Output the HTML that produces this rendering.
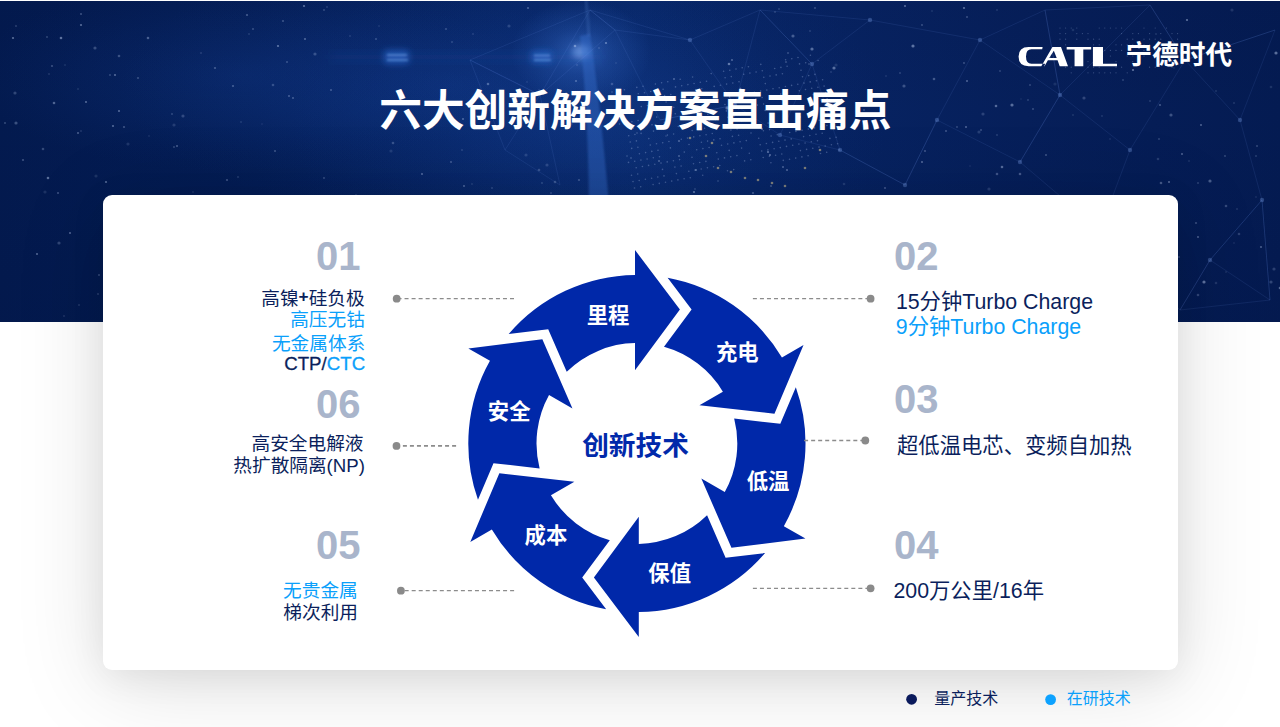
<!DOCTYPE html>
<html lang="zh-CN">
<head>
<meta charset="utf-8">
<title>六大创新解决方案直击痛点</title>
<style>
html,body{margin:0;padding:0;}
body{width:1280px;height:727px;overflow:hidden;background:#ffffff;position:relative;font-family:"Liberation Sans","Noto Sans CJK SC",sans-serif;}
#hdr{position:absolute;left:0;top:1px;width:1280px;height:321px;overflow:hidden;background:#041d55;}
#hdr svg{position:absolute;left:0;top:-1px;}
#card{position:absolute;left:103px;top:195px;width:1075px;height:475px;background:#fff;border-radius:9px;
 box-shadow:0 6px 36px rgba(0,0,0,.07),0 14px 90px rgba(0,0,0,.13);}
#ov{position:absolute;left:0;top:0;}
#ov text{font-family:"Liberation Sans","Noto Sans CJK SC",sans-serif;}
.sr{position:absolute;left:0;top:0;width:1px;height:1px;margin:-1px;padding:0;overflow:hidden;clip:rect(0 0 0 0);clip-path:inset(50%);white-space:nowrap;border:0;opacity:0;}
</style>
</head>
<body>
<div id="hdr">
<svg width="1280" height="322" viewBox="0 0 1280 322">
<defs>
<linearGradient id="hg" x1="0" x2="1" y1="0" y2="0">
<stop offset="0" stop-color="#031a4f"/><stop offset=".2" stop-color="#041d55"/><stop offset=".42" stop-color="#072566"/>
<stop offset=".5" stop-color="#08286b"/><stop offset=".62" stop-color="#072464"/><stop offset=".8" stop-color="#061f5a"/><stop offset="1" stop-color="#041b52"/>
</linearGradient>
<radialGradient id="glow" cx="590" cy="120" r="300" gradientUnits="userSpaceOnUse" gradientTransform="translate(590 120) scale(1 .62) translate(-590 -120)">
<stop offset="0" stop-color="#2558b0" stop-opacity=".22"/><stop offset=".5" stop-color="#1a4aa0" stop-opacity=".09"/><stop offset="1" stop-color="#103a88" stop-opacity="0"/>
</radialGradient>
<radialGradient id="glow2" cx="450" cy="85" r="330" gradientUnits="userSpaceOnUse" gradientTransform="translate(450 85) scale(1 .4) translate(-450 -85)">
<stop offset="0" stop-color="#1a4db0" stop-opacity=".27"/><stop offset=".55" stop-color="#1646a4" stop-opacity=".12"/><stop offset="1" stop-color="#103a88" stop-opacity="0"/>
</radialGradient>
<radialGradient id="glow3" cx="240" cy="75" r="270" gradientUnits="userSpaceOnUse" gradientTransform="translate(240 75) scale(1 .36) translate(-240 -75)">
<stop offset="0" stop-color="#1a4db0" stop-opacity=".2"/><stop offset=".6" stop-color="#1646a4" stop-opacity=".09"/><stop offset="1" stop-color="#103a88" stop-opacity="0"/>
</radialGradient>
<radialGradient id="spot" cx=".5" cy=".5" r=".5"><stop offset="0" stop-color="#4b86e8" stop-opacity=".5"/><stop offset=".45" stop-color="#3f7be0" stop-opacity=".22"/><stop offset="1" stop-color="#3f7be0" stop-opacity="0"/></radialGradient>
<linearGradient id="vg" x1="0" x2="0" y1="0" y2="1">
<stop offset="0" stop-color="#00103a" stop-opacity=".08"/><stop offset=".35" stop-color="#00103a" stop-opacity="0"/><stop offset="1" stop-color="#00103a" stop-opacity=".12"/>
</linearGradient>
<filter id="b6" x="-50%" y="-50%" width="200%" height="200%"><feGaussianBlur stdDeviation="6"/></filter>
<filter id="b3" x="-50%" y="-50%" width="200%" height="200%"><feGaussianBlur stdDeviation="3"/></filter>
<filter id="b1" x="-50%" y="-50%" width="200%" height="200%"><feGaussianBlur stdDeviation="1.2"/></filter>
<filter id="b0" x="-5%" y="-5%" width="110%" height="110%"><feGaussianBlur stdDeviation="0.7"/></filter>
</defs>
<rect width="1280" height="322" fill="url(#hg)"/>
<rect width="1280" height="322" fill="url(#glow)"/>
<rect width="1280" height="322" fill="url(#glow2)"/>
<rect width="1280" height="322" fill="url(#glow3)"/>
<rect width="1280" height="322" fill="url(#vg)"/>
<ellipse cx="581" cy="52" rx="70" ry="52" fill="url(#spot)"/>
<ellipse cx="581" cy="52" rx="9" ry="7" fill="#9cc2ff" fill-opacity=".45" filter="url(#b3)"/>
<path d="M580 36L590 34Q601 110 609 205L589 205Q588 110 580 36Z" fill="#3a6fd0" fill-opacity=".42" filter="url(#b1)"/>
<path d="M586 0Q588 20 589 36" stroke="#6f9ff0" stroke-opacity=".18" stroke-width="3" fill="none" filter="url(#b1)"/>
<rect x="384" y="50" width="25" height="14" rx="3" fill="#2f74e0" fill-opacity=".5" filter="url(#b3)"/>
<rect x="531" y="50.5" width="21" height="13" rx="3" fill="#2f74e0" fill-opacity=".45" filter="url(#b3)"/>
<path d="M387 55H407M387 60H408M534 55.5H550M534 60H551" stroke="#9cc4ff" stroke-opacity=".4" stroke-width="2.2" filter="url(#b1)"/>
<rect x="330" y="53" width="270" height="8" fill="#2a66cc" fill-opacity=".12" filter="url(#b6)"/>
<path d="M812 64L870 20M812 64L760 10M812 64L780 135M937 120L905 185M937 120L980 40M937 120L1020 162M1020 162L1060 95M1020 162L1100 230M780 135L735 105M780 135L840 150M690 40L615 30M690 40L760 10M690 40L735 105M735 105L660 120M870 20L760 10M870 20L980 40M980 40L1045 10M980 40L1060 95M1060 95L1020 162M1060 95L1045 10M1060 95L1130 150M1130 150L1100 230M1130 150L1185 60M1185 60L1150 5M1185 60L1240 120M1185 60L1275 30M1240 120L1262 200M1240 120L1275 30M1100 230L1180 310M1210 260L1180 310M1210 260L1270 300M1210 260L1262 200M1262 200L1210 260M1262 200L1270 300M905 185L937 120M905 185L840 150M840 150L905 185M840 150L812 64M660 120L735 105M660 120L615 30M615 30L590 10M615 30L540 95M760 10L812 64M760 10L735 105M1045 10L1060 95M1045 10L1150 5M1150 5L1185 60M1150 5L1060 95M1275 30L1185 60M1180 310L1210 260M1180 310L1270 300M1270 300L1262 200M540 95L505 150M540 95L470 60M540 95L560 185M505 150L560 185M505 150L470 60M470 60L540 95M470 60L590 10M590 10L615 30M590 10L540 95M590 10L690 40" stroke="#7fa8ff" stroke-opacity=".13" stroke-width="0.8" fill="none"/><circle cx="812" cy="64" r="2.2" fill="#8fb6ff" fill-opacity=".28"/><circle cx="937" cy="120" r="2.2" fill="#8fb6ff" fill-opacity=".28"/><circle cx="1020" cy="162" r="2.2" fill="#8fb6ff" fill-opacity=".28"/><circle cx="780" cy="135" r="2.2" fill="#8fb6ff" fill-opacity=".28"/><circle cx="690" cy="40" r="2.2" fill="#8fb6ff" fill-opacity=".28"/><circle cx="735" cy="105" r="2.2" fill="#8fb6ff" fill-opacity=".28"/><circle cx="870" cy="20" r="2.2" fill="#8fb6ff" fill-opacity=".28"/><circle cx="980" cy="40" r="2.2" fill="#8fb6ff" fill-opacity=".28"/><circle cx="1060" cy="95" r="2.2" fill="#8fb6ff" fill-opacity=".28"/><circle cx="1130" cy="150" r="2.2" fill="#8fb6ff" fill-opacity=".28"/><circle cx="1185" cy="60" r="2.2" fill="#8fb6ff" fill-opacity=".28"/><circle cx="1240" cy="120" r="2.2" fill="#8fb6ff" fill-opacity=".28"/><circle cx="1100" cy="230" r="2.2" fill="#8fb6ff" fill-opacity=".28"/><circle cx="1210" cy="260" r="2.2" fill="#8fb6ff" fill-opacity=".28"/><circle cx="1262" cy="200" r="2.2" fill="#8fb6ff" fill-opacity=".28"/><circle cx="905" cy="185" r="2.2" fill="#8fb6ff" fill-opacity=".28"/><circle cx="840" cy="150" r="2.2" fill="#8fb6ff" fill-opacity=".28"/>
<g fill="#b9cdf5" fill-opacity=".3"><circle cx="612.0" cy="92.0" r="0.8"/><circle cx="618.2" cy="90.8" r="0.8"/><circle cx="624.4" cy="89.7" r="0.8"/><circle cx="636.8" cy="87.4" r="0.8"/><circle cx="643.0" cy="86.2" r="0.8"/><circle cx="655.4" cy="84.0" r="0.8"/><circle cx="661.6" cy="82.8" r="0.8"/><circle cx="667.8" cy="81.7" r="0.8"/><circle cx="680.2" cy="79.3" r="0.8"/><circle cx="692.6" cy="77.0" r="0.8"/><circle cx="711.2" cy="73.6" r="0.8"/><circle cx="723.6" cy="71.3" r="0.8"/><circle cx="729.8" cy="70.2" r="0.8"/><circle cx="736.0" cy="69.0" r="0.8"/><circle cx="742.2" cy="67.8" r="0.8"/><circle cx="748.4" cy="66.7" r="0.8"/><circle cx="760.8" cy="64.4" r="0.8"/><circle cx="785.6" cy="59.8" r="0.8"/><circle cx="791.8" cy="58.7" r="0.8"/><circle cx="798.0" cy="57.5" r="0.8"/><circle cx="810.4" cy="55.2" r="0.8"/><circle cx="625.9" cy="96.1" r="0.8"/><circle cx="638.3" cy="93.8" r="0.8"/><circle cx="644.5" cy="92.7" r="0.8"/><circle cx="650.7" cy="91.5" r="0.8"/><circle cx="663.1" cy="89.2" r="0.8"/><circle cx="675.5" cy="86.9" r="0.8"/><circle cx="681.7" cy="85.8" r="0.8"/><circle cx="687.9" cy="84.6" r="0.8"/><circle cx="694.1" cy="83.5" r="0.8"/><circle cx="700.3" cy="82.3" r="0.8"/><circle cx="706.5" cy="81.2" r="0.8"/><circle cx="725.1" cy="77.7" r="0.8"/><circle cx="731.3" cy="76.6" r="0.8"/><circle cx="743.7" cy="74.2" r="0.8"/><circle cx="749.9" cy="73.1" r="0.8"/><circle cx="756.1" cy="72.0" r="0.8"/><circle cx="762.3" cy="70.8" r="0.8"/><circle cx="774.7" cy="68.5" r="0.8"/><circle cx="780.9" cy="67.4" r="0.8"/><circle cx="787.1" cy="66.2" r="0.8"/><circle cx="799.5" cy="63.9" r="0.8"/><circle cx="805.7" cy="62.8" r="0.8"/><circle cx="818.1" cy="60.5" r="0.8"/><circle cx="639.8" cy="100.2" r="0.8"/><circle cx="646.0" cy="99.0" r="0.8"/><circle cx="652.2" cy="97.9" r="0.8"/><circle cx="664.6" cy="95.6" r="0.8"/><circle cx="670.8" cy="94.5" r="0.8"/><circle cx="695.6" cy="89.8" r="0.8"/><circle cx="701.8" cy="88.7" r="0.8"/><circle cx="714.2" cy="86.4" r="0.8"/><circle cx="720.4" cy="85.2" r="0.8"/><circle cx="726.6" cy="84.1" r="0.8"/><circle cx="732.8" cy="83.0" r="0.8"/><circle cx="739.0" cy="81.8" r="0.8"/><circle cx="763.8" cy="77.2" r="0.8"/><circle cx="770.0" cy="76.0" r="0.8"/><circle cx="776.2" cy="74.9" r="0.8"/><circle cx="782.4" cy="73.8" r="0.8"/><circle cx="801.0" cy="70.3" r="0.8"/><circle cx="628.9" cy="108.9" r="0.8"/><circle cx="641.3" cy="106.6" r="0.8"/><circle cx="647.5" cy="105.5" r="0.8"/><circle cx="666.1" cy="102.0" r="0.8"/><circle cx="684.7" cy="98.6" r="0.8"/><circle cx="690.9" cy="97.4" r="0.8"/><circle cx="697.1" cy="96.2" r="0.8"/><circle cx="703.3" cy="95.1" r="0.8"/><circle cx="715.7" cy="92.8" r="0.8"/><circle cx="740.5" cy="88.2" r="0.8"/><circle cx="765.3" cy="83.6" r="0.8"/><circle cx="802.5" cy="76.7" r="0.8"/><circle cx="808.7" cy="75.6" r="0.8"/><circle cx="814.9" cy="74.4" r="0.8"/><circle cx="624.2" cy="116.4" r="0.8"/><circle cx="649.0" cy="111.8" r="0.8"/><circle cx="661.4" cy="109.5" r="0.8"/><circle cx="673.8" cy="107.2" r="0.8"/><circle cx="704.8" cy="101.5" r="0.8"/><circle cx="711.0" cy="100.3" r="0.8"/><circle cx="717.2" cy="99.2" r="0.8"/><circle cx="729.6" cy="96.9" r="0.8"/><circle cx="748.2" cy="93.4" r="0.8"/><circle cx="754.4" cy="92.3" r="0.8"/><circle cx="760.6" cy="91.1" r="0.8"/><circle cx="766.8" cy="90.0" r="0.8"/><circle cx="773.0" cy="88.8" r="0.8"/><circle cx="779.2" cy="87.7" r="0.8"/><circle cx="785.4" cy="86.5" r="0.8"/><circle cx="791.6" cy="85.4" r="0.8"/><circle cx="797.8" cy="84.2" r="0.8"/><circle cx="804.0" cy="83.1" r="0.8"/><circle cx="810.2" cy="81.9" r="0.8"/><circle cx="816.4" cy="80.8" r="0.8"/><circle cx="822.6" cy="79.7" r="0.8"/><circle cx="619.5" cy="124.0" r="0.8"/><circle cx="631.9" cy="121.7" r="0.8"/><circle cx="638.1" cy="120.5" r="0.8"/><circle cx="644.3" cy="119.4" r="0.8"/><circle cx="650.5" cy="118.2" r="0.8"/><circle cx="656.7" cy="117.1" r="0.8"/><circle cx="669.1" cy="114.8" r="0.8"/><circle cx="675.3" cy="113.7" r="0.8"/><circle cx="681.5" cy="112.5" r="0.8"/><circle cx="687.7" cy="111.3" r="0.8"/><circle cx="693.9" cy="110.2" r="0.8"/><circle cx="700.1" cy="109.0" r="0.8"/><circle cx="706.3" cy="107.9" r="0.8"/><circle cx="724.9" cy="104.5" r="0.8"/><circle cx="743.5" cy="101.0" r="0.8"/><circle cx="749.7" cy="99.8" r="0.8"/><circle cx="755.9" cy="98.7" r="0.8"/><circle cx="762.1" cy="97.5" r="0.8"/><circle cx="780.7" cy="94.1" r="0.8"/><circle cx="786.9" cy="93.0" r="0.8"/><circle cx="799.3" cy="90.7" r="0.8"/><circle cx="805.5" cy="89.5" r="0.8"/><circle cx="811.7" cy="88.3" r="0.8"/><circle cx="817.9" cy="87.2" r="0.8"/><circle cx="824.1" cy="86.1" r="0.8"/><circle cx="633.4" cy="128.1" r="0.8"/><circle cx="639.6" cy="127.0" r="0.8"/><circle cx="645.8" cy="125.8" r="0.8"/><circle cx="652.0" cy="124.7" r="0.8"/><circle cx="664.4" cy="122.4" r="0.8"/><circle cx="683.0" cy="118.9" r="0.8"/><circle cx="689.2" cy="117.8" r="0.8"/><circle cx="701.6" cy="115.5" r="0.8"/><circle cx="707.8" cy="114.3" r="0.8"/><circle cx="714.0" cy="113.2" r="0.8"/><circle cx="726.4" cy="110.9" r="0.8"/><circle cx="732.6" cy="109.7" r="0.8"/><circle cx="738.8" cy="108.6" r="0.8"/><circle cx="745.0" cy="107.4" r="0.8"/><circle cx="757.4" cy="105.1" r="0.8"/><circle cx="763.6" cy="104.0" r="0.8"/><circle cx="782.2" cy="100.5" r="0.8"/><circle cx="788.4" cy="99.4" r="0.8"/><circle cx="794.6" cy="98.2" r="0.8"/><circle cx="813.2" cy="94.8" r="0.8"/><circle cx="819.4" cy="93.6" r="0.8"/><circle cx="825.6" cy="92.5" r="0.8"/><circle cx="628.7" cy="135.7" r="0.8"/><circle cx="634.9" cy="134.5" r="0.8"/><circle cx="641.1" cy="133.4" r="0.8"/><circle cx="653.5" cy="131.1" r="0.8"/><circle cx="665.9" cy="128.8" r="0.8"/><circle cx="678.3" cy="126.5" r="0.8"/><circle cx="684.5" cy="125.3" r="0.8"/><circle cx="690.7" cy="124.2" r="0.8"/><circle cx="696.9" cy="123.0" r="0.8"/><circle cx="703.1" cy="121.9" r="0.8"/><circle cx="709.3" cy="120.7" r="0.8"/><circle cx="715.5" cy="119.6" r="0.8"/><circle cx="727.9" cy="117.3" r="0.8"/><circle cx="734.1" cy="116.1" r="0.8"/><circle cx="740.3" cy="115.0" r="0.8"/><circle cx="746.5" cy="113.8" r="0.8"/><circle cx="765.1" cy="110.4" r="0.8"/><circle cx="771.3" cy="109.2" r="0.8"/><circle cx="783.7" cy="106.9" r="0.8"/><circle cx="789.9" cy="105.8" r="0.8"/><circle cx="808.5" cy="102.3" r="0.8"/><circle cx="820.9" cy="100.0" r="0.8"/><circle cx="827.1" cy="98.9" r="0.8"/><circle cx="630.2" cy="142.0" r="0.8"/><circle cx="636.4" cy="140.9" r="0.8"/><circle cx="648.8" cy="138.6" r="0.8"/><circle cx="667.4" cy="135.1" r="0.8"/><circle cx="673.6" cy="134.0" r="0.8"/><circle cx="692.2" cy="130.5" r="0.8"/><circle cx="698.4" cy="129.4" r="0.8"/><circle cx="704.6" cy="128.2" r="0.8"/><circle cx="710.8" cy="127.1" r="0.8"/><circle cx="717.0" cy="125.9" r="0.8"/><circle cx="723.2" cy="124.8" r="0.8"/><circle cx="729.4" cy="123.6" r="0.8"/><circle cx="741.8" cy="121.3" r="0.8"/><circle cx="748.0" cy="120.2" r="0.8"/><circle cx="772.8" cy="115.6" r="0.8"/><circle cx="803.8" cy="109.8" r="0.8"/><circle cx="816.2" cy="107.5" r="0.8"/><circle cx="631.7" cy="148.4" r="0.8"/><circle cx="637.9" cy="147.3" r="0.8"/><circle cx="650.3" cy="145.0" r="0.8"/><circle cx="656.5" cy="143.8" r="0.8"/><circle cx="662.7" cy="142.7" r="0.8"/><circle cx="668.9" cy="141.5" r="0.8"/><circle cx="681.3" cy="139.2" r="0.8"/><circle cx="687.5" cy="138.1" r="0.8"/><circle cx="693.7" cy="136.9" r="0.8"/><circle cx="699.9" cy="135.8" r="0.8"/><circle cx="706.1" cy="134.7" r="0.8"/><circle cx="712.3" cy="133.5" r="0.8"/><circle cx="730.9" cy="130.1" r="0.8"/><circle cx="737.1" cy="128.9" r="0.8"/><circle cx="743.3" cy="127.8" r="0.8"/><circle cx="749.5" cy="126.6" r="0.8"/><circle cx="755.7" cy="125.4" r="0.8"/><circle cx="768.1" cy="123.1" r="0.8"/><circle cx="774.3" cy="122.0" r="0.8"/><circle cx="786.7" cy="119.7" r="0.8"/><circle cx="799.1" cy="117.4" r="0.8"/><circle cx="811.5" cy="115.1" r="0.8"/><circle cx="823.9" cy="112.8" r="0.8"/><circle cx="830.1" cy="111.7" r="0.8"/><circle cx="627.0" cy="156.0" r="0.8"/><circle cx="639.4" cy="153.7" r="0.8"/><circle cx="645.6" cy="152.6" r="0.8"/><circle cx="651.8" cy="151.4" r="0.8"/><circle cx="658.0" cy="150.2" r="0.8"/><circle cx="670.4" cy="147.9" r="0.8"/><circle cx="689.0" cy="144.5" r="0.8"/><circle cx="701.4" cy="142.2" r="0.8"/><circle cx="707.6" cy="141.1" r="0.8"/><circle cx="713.8" cy="139.9" r="0.8"/><circle cx="720.0" cy="138.8" r="0.8"/><circle cx="732.4" cy="136.4" r="0.8"/><circle cx="738.6" cy="135.3" r="0.8"/><circle cx="751.0" cy="133.0" r="0.8"/><circle cx="763.4" cy="130.7" r="0.8"/><circle cx="769.6" cy="129.6" r="0.8"/><circle cx="788.2" cy="126.1" r="0.8"/><circle cx="794.4" cy="125.0" r="0.8"/><circle cx="819.2" cy="120.3" r="0.8"/><circle cx="831.6" cy="118.1" r="0.8"/><circle cx="628.5" cy="162.4" r="0.8"/><circle cx="634.7" cy="161.2" r="0.8"/><circle cx="640.9" cy="160.1" r="0.8"/><circle cx="647.1" cy="159.0" r="0.8"/><circle cx="653.3" cy="157.8" r="0.8"/><circle cx="659.5" cy="156.7" r="0.8"/><circle cx="684.3" cy="152.1" r="0.8"/><circle cx="696.7" cy="149.8" r="0.8"/><circle cx="702.9" cy="148.6" r="0.8"/><circle cx="709.1" cy="147.5" r="0.8"/><circle cx="721.5" cy="145.2" r="0.8"/><circle cx="727.7" cy="144.0" r="0.8"/><circle cx="733.9" cy="142.9" r="0.8"/><circle cx="740.1" cy="141.7" r="0.8"/><circle cx="746.3" cy="140.6" r="0.8"/><circle cx="758.7" cy="138.2" r="0.8"/><circle cx="771.1" cy="136.0" r="0.8"/><circle cx="777.3" cy="134.8" r="0.8"/><circle cx="789.7" cy="132.5" r="0.8"/><circle cx="795.9" cy="131.4" r="0.8"/><circle cx="802.1" cy="130.2" r="0.8"/><circle cx="808.3" cy="129.1" r="0.8"/><circle cx="814.5" cy="127.9" r="0.8"/><circle cx="820.7" cy="126.8" r="0.8"/><circle cx="826.9" cy="125.6" r="0.8"/><circle cx="833.1" cy="124.5" r="0.8"/><circle cx="636.2" cy="167.7" r="0.8"/><circle cx="642.4" cy="166.5" r="0.8"/><circle cx="648.6" cy="165.4" r="0.8"/><circle cx="654.8" cy="164.2" r="0.8"/><circle cx="661.0" cy="163.1" r="0.8"/><circle cx="667.2" cy="161.9" r="0.8"/><circle cx="673.4" cy="160.8" r="0.8"/><circle cx="679.6" cy="159.6" r="0.8"/><circle cx="692.0" cy="157.3" r="0.8"/><circle cx="716.8" cy="152.7" r="0.8"/><circle cx="729.2" cy="150.4" r="0.8"/><circle cx="741.6" cy="148.1" r="0.8"/><circle cx="760.2" cy="144.7" r="0.8"/><circle cx="766.4" cy="143.5" r="0.8"/><circle cx="772.6" cy="142.4" r="0.8"/><circle cx="778.8" cy="141.2" r="0.8"/><circle cx="785.0" cy="140.1" r="0.8"/><circle cx="791.2" cy="138.9" r="0.8"/><circle cx="803.6" cy="136.6" r="0.8"/><circle cx="809.8" cy="135.5" r="0.8"/><circle cx="816.0" cy="134.3" r="0.8"/><circle cx="822.2" cy="133.2" r="0.8"/><circle cx="631.5" cy="175.2" r="0.8"/><circle cx="637.7" cy="174.0" r="0.8"/><circle cx="662.5" cy="169.4" r="0.8"/><circle cx="674.9" cy="167.1" r="0.8"/><circle cx="681.1" cy="166.0" r="0.8"/><circle cx="693.5" cy="163.7" r="0.8"/><circle cx="699.7" cy="162.5" r="0.8"/><circle cx="705.9" cy="161.4" r="0.8"/><circle cx="718.3" cy="159.1" r="0.8"/><circle cx="724.5" cy="157.9" r="0.8"/><circle cx="730.7" cy="156.8" r="0.8"/><circle cx="736.9" cy="155.6" r="0.8"/><circle cx="749.3" cy="153.3" r="0.8"/><circle cx="761.7" cy="151.0" r="0.8"/><circle cx="767.9" cy="149.9" r="0.8"/><circle cx="774.1" cy="148.8" r="0.8"/><circle cx="780.3" cy="147.6" r="0.8"/><circle cx="786.5" cy="146.4" r="0.8"/><circle cx="792.7" cy="145.3" r="0.8"/><circle cx="798.9" cy="144.1" r="0.8"/><circle cx="805.1" cy="143.0" r="0.8"/><circle cx="811.3" cy="141.8" r="0.8"/><circle cx="817.5" cy="140.7" r="0.8"/><circle cx="829.9" cy="138.4" r="0.8"/><circle cx="836.1" cy="137.2" r="0.8"/><circle cx="633.0" cy="181.6" r="0.8"/><circle cx="639.2" cy="180.5" r="0.8"/><circle cx="645.4" cy="179.3" r="0.8"/><circle cx="651.6" cy="178.2" r="0.8"/><circle cx="657.8" cy="177.0" r="0.8"/><circle cx="664.0" cy="175.9" r="0.8"/><circle cx="676.4" cy="173.6" r="0.8"/><circle cx="688.8" cy="171.3" r="0.8"/><circle cx="695.0" cy="170.1" r="0.8"/><circle cx="701.2" cy="169.0" r="0.8"/><circle cx="707.4" cy="167.8" r="0.8"/><circle cx="713.6" cy="166.7" r="0.8"/><circle cx="719.8" cy="165.5" r="0.8"/><circle cx="744.6" cy="160.9" r="0.8"/><circle cx="750.8" cy="159.8" r="0.8"/><circle cx="763.2" cy="157.5" r="0.8"/><circle cx="769.4" cy="156.3" r="0.8"/><circle cx="775.6" cy="155.2" r="0.8"/><circle cx="781.8" cy="154.0" r="0.8"/><circle cx="800.4" cy="150.6" r="0.8"/><circle cx="806.6" cy="149.4" r="0.8"/><circle cx="812.8" cy="148.3" r="0.8"/><circle cx="819.0" cy="147.1" r="0.8"/><circle cx="825.2" cy="146.0" r="0.8"/><circle cx="831.4" cy="144.8" r="0.8"/><circle cx="837.6" cy="143.7" r="0.8"/><circle cx="634.5" cy="188.0" r="0.8"/><circle cx="640.7" cy="186.8" r="0.8"/><circle cx="653.1" cy="184.6" r="0.8"/><circle cx="659.3" cy="183.4" r="0.8"/><circle cx="665.5" cy="182.2" r="0.8"/><circle cx="671.7" cy="181.1" r="0.8"/><circle cx="677.9" cy="179.9" r="0.8"/><circle cx="684.1" cy="178.8" r="0.8"/><circle cx="690.3" cy="177.7" r="0.8"/><circle cx="702.7" cy="175.3" r="0.8"/><circle cx="727.5" cy="170.8" r="0.8"/><circle cx="733.7" cy="169.6" r="0.8"/><circle cx="770.9" cy="162.7" r="0.8"/><circle cx="783.3" cy="160.4" r="0.8"/><circle cx="789.5" cy="159.2" r="0.8"/><circle cx="795.7" cy="158.1" r="0.8"/><circle cx="801.9" cy="156.9" r="0.8"/><circle cx="808.1" cy="155.8" r="0.8"/><circle cx="820.5" cy="153.5" r="0.8"/><circle cx="826.7" cy="152.3" r="0.8"/><circle cx="839.1" cy="150.1" r="0.8"/><circle cx="1060.0" cy="28.0" r="0.6"/><circle cx="1065.6" cy="28.0" r="0.6"/><circle cx="1071.2" cy="28.0" r="0.6"/><circle cx="1076.8" cy="28.0" r="0.6"/><circle cx="1099.2" cy="28.0" r="0.6"/><circle cx="1104.8" cy="28.0" r="0.6"/><circle cx="1110.4" cy="28.0" r="0.6"/><circle cx="1116.0" cy="28.0" r="0.6"/><circle cx="1121.6" cy="28.0" r="0.6"/><circle cx="1144.0" cy="28.0" r="0.6"/><circle cx="1155.2" cy="28.0" r="0.6"/><circle cx="1166.4" cy="28.0" r="0.6"/><circle cx="1060.0" cy="33.6" r="0.6"/><circle cx="1065.6" cy="33.6" r="0.6"/><circle cx="1076.8" cy="33.6" r="0.6"/><circle cx="1082.4" cy="33.6" r="0.6"/><circle cx="1088.0" cy="33.6" r="0.6"/><circle cx="1121.6" cy="33.6" r="0.6"/><circle cx="1132.8" cy="33.6" r="0.6"/><circle cx="1138.4" cy="33.6" r="0.6"/><circle cx="1149.6" cy="33.6" r="0.6"/><circle cx="1160.8" cy="33.6" r="0.6"/><circle cx="1172.0" cy="33.6" r="0.6"/><circle cx="1177.6" cy="33.6" r="0.6"/><circle cx="1060.0" cy="39.2" r="0.6"/><circle cx="1065.6" cy="39.2" r="0.6"/><circle cx="1076.8" cy="39.2" r="0.6"/><circle cx="1088.0" cy="39.2" r="0.6"/><circle cx="1093.6" cy="39.2" r="0.6"/><circle cx="1099.2" cy="39.2" r="0.6"/><circle cx="1127.2" cy="39.2" r="0.6"/><circle cx="1132.8" cy="39.2" r="0.6"/><circle cx="1144.0" cy="39.2" r="0.6"/><circle cx="1149.6" cy="39.2" r="0.6"/><circle cx="1155.2" cy="39.2" r="0.6"/><circle cx="1160.8" cy="39.2" r="0.6"/><circle cx="1177.6" cy="39.2" r="0.6"/><circle cx="1065.6" cy="44.8" r="0.6"/><circle cx="1093.6" cy="44.8" r="0.6"/><circle cx="1099.2" cy="44.8" r="0.6"/><circle cx="1116.0" cy="44.8" r="0.6"/><circle cx="1121.6" cy="44.8" r="0.6"/><circle cx="1127.2" cy="44.8" r="0.6"/><circle cx="1132.8" cy="44.8" r="0.6"/><circle cx="1138.4" cy="44.8" r="0.6"/><circle cx="1144.0" cy="44.8" r="0.6"/><circle cx="1149.6" cy="44.8" r="0.6"/><circle cx="1160.8" cy="44.8" r="0.6"/><circle cx="1082.4" cy="50.4" r="0.6"/><circle cx="1104.8" cy="50.4" r="0.6"/><circle cx="1110.4" cy="50.4" r="0.6"/><circle cx="1116.0" cy="50.4" r="0.6"/><circle cx="1121.6" cy="50.4" r="0.6"/><circle cx="1144.0" cy="50.4" r="0.6"/><circle cx="1155.2" cy="50.4" r="0.6"/><circle cx="1166.4" cy="50.4" r="0.6"/><circle cx="1093.6" cy="56.0" r="0.6"/><circle cx="1110.4" cy="56.0" r="0.6"/><circle cx="1127.2" cy="56.0" r="0.6"/><circle cx="1132.8" cy="56.0" r="0.6"/><circle cx="1138.4" cy="56.0" r="0.6"/><circle cx="1144.0" cy="56.0" r="0.6"/><circle cx="1172.0" cy="56.0" r="0.6"/><circle cx="1177.6" cy="56.0" r="0.6"/><circle cx="1076.8" cy="61.6" r="0.6"/><circle cx="1088.0" cy="61.6" r="0.6"/><circle cx="1093.6" cy="61.6" r="0.6"/><circle cx="1099.2" cy="61.6" r="0.6"/><circle cx="1116.0" cy="61.6" r="0.6"/><circle cx="1132.8" cy="61.6" r="0.6"/><circle cx="1138.4" cy="61.6" r="0.6"/><circle cx="1166.4" cy="61.6" r="0.6"/><circle cx="1172.0" cy="61.6" r="0.6"/><circle cx="1065.6" cy="67.2" r="0.6"/><circle cx="1071.2" cy="67.2" r="0.6"/><circle cx="1088.0" cy="67.2" r="0.6"/><circle cx="1093.6" cy="67.2" r="0.6"/><circle cx="1099.2" cy="67.2" r="0.6"/><circle cx="1116.0" cy="67.2" r="0.6"/><circle cx="1121.6" cy="67.2" r="0.6"/><circle cx="1149.6" cy="67.2" r="0.6"/><circle cx="1155.2" cy="67.2" r="0.6"/><circle cx="1172.0" cy="67.2" r="0.6"/><circle cx="1071.2" cy="72.8" r="0.6"/><circle cx="1088.0" cy="72.8" r="0.6"/><circle cx="1093.6" cy="72.8" r="0.6"/><circle cx="1099.2" cy="72.8" r="0.6"/><circle cx="1104.8" cy="72.8" r="0.6"/><circle cx="1110.4" cy="72.8" r="0.6"/><circle cx="1116.0" cy="72.8" r="0.6"/><circle cx="1127.2" cy="72.8" r="0.6"/></g>
<circle cx="706" cy="156" r="1.3" fill="#d8c48a" fill-opacity=".55"/><circle cx="718" cy="168" r="1.3" fill="#d8c48a" fill-opacity=".55"/><circle cx="731" cy="172" r="1.3" fill="#d8c48a" fill-opacity=".55"/><circle cx="745" cy="178" r="1.3" fill="#d8c48a" fill-opacity=".55"/><circle cx="758" cy="180" r="1.3" fill="#d8c48a" fill-opacity=".55"/><circle cx="772" cy="183" r="1.3" fill="#d8c48a" fill-opacity=".55"/><circle cx="785" cy="186" r="1.3" fill="#d8c48a" fill-opacity=".55"/><circle cx="712" cy="143" r="1.3" fill="#d8c48a" fill-opacity=".55"/><circle cx="690" cy="138" r="1.3" fill="#d8c48a" fill-opacity=".55"/><circle cx="700" cy="126" r="1.3" fill="#d8c48a" fill-opacity=".55"/><circle cx="805" cy="168" r="1.3" fill="#d8c48a" fill-opacity=".55"/><circle cx="820" cy="150" r="1.3" fill="#d8c48a" fill-opacity=".55"/>
<g fill="#cfe0ff" filter="url(#b0)"><circle cx="579" cy="180" r="1.1" fill-opacity="0.26"/><circle cx="1094" cy="63" r="1.3" fill-opacity="0.27"/><circle cx="786" cy="62" r="1.1" fill-opacity="0.21"/><circle cx="116" cy="260" r="1.6" fill-opacity="0.32"/><circle cx="762" cy="129" r="1.1" fill-opacity="0.33"/><circle cx="788" cy="53" r="0.8" fill-opacity="0.39"/><circle cx="81" cy="14" r="0.9" fill-opacity="0.31"/><circle cx="996" cy="106" r="1.3" fill-opacity="0.39"/><circle cx="664" cy="206" r="1.1" fill-opacity="0.10"/><circle cx="109" cy="211" r="1.1" fill-opacity="0.45"/><circle cx="1274" cy="269" r="1.6" fill-opacity="0.19"/><circle cx="970" cy="166" r="0.8" fill-opacity="0.12"/><circle cx="981" cy="130" r="1.0" fill-opacity="0.24"/><circle cx="1226" cy="272" r="0.8" fill-opacity="0.17"/><circle cx="1187" cy="20" r="1.1" fill-opacity="0.44"/><circle cx="509" cy="26" r="1.6" fill-opacity="0.17"/><circle cx="864" cy="110" r="1.0" fill-opacity="0.22"/><circle cx="1234" cy="243" r="0.8" fill-opacity="0.15"/><circle cx="905" cy="6" r="1.1" fill-opacity="0.38"/><circle cx="227" cy="180" r="1.1" fill-opacity="0.28"/><circle cx="1261" cy="247" r="1.1" fill-opacity="0.33"/><circle cx="149" cy="136" r="0.9" fill-opacity="0.10"/><circle cx="1106" cy="312" r="1.3" fill-opacity="0.21"/><circle cx="1133" cy="70" r="1.1" fill-opacity="0.45"/><circle cx="771" cy="186" r="0.8" fill-opacity="0.45"/><circle cx="273" cy="85" r="1.3" fill-opacity="0.22"/><circle cx="379" cy="26" r="0.8" fill-opacity="0.17"/><circle cx="815" cy="8" r="1.0" fill-opacity="0.23"/><circle cx="580" cy="307" r="1.1" fill-opacity="0.39"/><circle cx="174" cy="125" r="1.6" fill-opacity="0.15"/><circle cx="1163" cy="262" r="0.9" fill-opacity="0.35"/><circle cx="203" cy="202" r="1.3" fill-opacity="0.17"/><circle cx="1216" cy="283" r="1.3" fill-opacity="0.13"/><circle cx="61" cy="38" r="1.3" fill-opacity="0.44"/><circle cx="305" cy="226" r="1.0" fill-opacity="0.25"/><circle cx="1158" cy="159" r="1.3" fill-opacity="0.16"/><circle cx="922" cy="25" r="0.9" fill-opacity="0.27"/><circle cx="836" cy="198" r="0.8" fill-opacity="0.20"/><circle cx="1174" cy="68" r="0.8" fill-opacity="0.12"/><circle cx="527" cy="82" r="0.8" fill-opacity="0.16"/><circle cx="472" cy="184" r="0.9" fill-opacity="0.13"/><circle cx="177" cy="146" r="1.0" fill-opacity="0.33"/><circle cx="885" cy="188" r="0.9" fill-opacity="0.31"/><circle cx="1182" cy="154" r="1.0" fill-opacity="0.35"/><circle cx="1232" cy="10" r="1.6" fill-opacity="0.13"/><circle cx="86" cy="102" r="0.9" fill-opacity="0.45"/><circle cx="96" cy="176" r="1.6" fill-opacity="0.12"/><circle cx="1198" cy="237" r="0.9" fill-opacity="0.38"/><circle cx="1171" cy="115" r="1.6" fill-opacity="0.27"/><circle cx="99" cy="275" r="0.8" fill-opacity="0.40"/><circle cx="733" cy="201" r="1.1" fill-opacity="0.23"/><circle cx="16" cy="26" r="0.8" fill-opacity="0.32"/><circle cx="1271" cy="282" r="1.6" fill-opacity="0.22"/><circle cx="1196" cy="223" r="1.1" fill-opacity="0.25"/><circle cx="1073" cy="30" r="1.3" fill-opacity="0.11"/><circle cx="770" cy="155" r="0.9" fill-opacity="0.44"/><circle cx="144" cy="250" r="1.6" fill-opacity="0.42"/><circle cx="327" cy="7" r="1.0" fill-opacity="0.15"/><circle cx="783" cy="167" r="1.0" fill-opacity="0.33"/><circle cx="566" cy="286" r="1.0" fill-opacity="0.24"/><circle cx="321" cy="204" r="0.9" fill-opacity="0.41"/><circle cx="492" cy="188" r="1.0" fill-opacity="0.17"/><circle cx="172" cy="114" r="0.8" fill-opacity="0.35"/><circle cx="1216" cy="91" r="0.9" fill-opacity="0.14"/><circle cx="603" cy="296" r="1.1" fill-opacity="0.23"/><circle cx="666" cy="216" r="1.6" fill-opacity="0.39"/><circle cx="1257" cy="146" r="0.8" fill-opacity="0.39"/><circle cx="356" cy="196" r="1.6" fill-opacity="0.35"/><circle cx="730" cy="101" r="1.3" fill-opacity="0.11"/><circle cx="174" cy="147" r="0.8" fill-opacity="0.37"/><circle cx="341" cy="250" r="0.8" fill-opacity="0.44"/><circle cx="148" cy="38" r="1.3" fill-opacity="0.33"/><circle cx="1033" cy="307" r="1.6" fill-opacity="0.17"/><circle cx="1055" cy="84" r="1.6" fill-opacity="0.10"/><circle cx="604" cy="229" r="0.9" fill-opacity="0.18"/><circle cx="997" cy="174" r="1.3" fill-opacity="0.28"/><circle cx="1276" cy="53" r="1.6" fill-opacity="0.42"/><circle cx="112" cy="299" r="1.6" fill-opacity="0.24"/><circle cx="577" cy="65" r="0.8" fill-opacity="0.23"/><circle cx="728" cy="282" r="1.0" fill-opacity="0.26"/><circle cx="834" cy="68" r="1.6" fill-opacity="0.40"/><circle cx="1022" cy="296" r="0.8" fill-opacity="0.17"/><circle cx="1152" cy="314" r="1.0" fill-opacity="0.29"/><circle cx="1012" cy="105" r="1.6" fill-opacity="0.40"/><circle cx="446" cy="29" r="1.1" fill-opacity="0.22"/><circle cx="539" cy="90" r="0.8" fill-opacity="0.18"/><circle cx="1110" cy="139" r="0.8" fill-opacity="0.16"/><circle cx="429" cy="253" r="0.9" fill-opacity="0.26"/><circle cx="1280" cy="288" r="1.3" fill-opacity="0.39"/><circle cx="882" cy="303" r="1.1" fill-opacity="0.30"/><circle cx="882" cy="243" r="1.1" fill-opacity="0.28"/><circle cx="371" cy="234" r="1.6" fill-opacity="0.16"/><circle cx="658" cy="291" r="1.0" fill-opacity="0.21"/><circle cx="488" cy="271" r="1.3" fill-opacity="0.17"/><circle cx="1089" cy="310" r="1.3" fill-opacity="0.20"/><circle cx="637" cy="133" r="0.8" fill-opacity="0.28"/><circle cx="775" cy="12" r="0.8" fill-opacity="0.28"/><circle cx="513" cy="257" r="1.3" fill-opacity="0.14"/><circle cx="119" cy="56" r="1.3" fill-opacity="0.26"/><circle cx="1179" cy="257" r="1.1" fill-opacity="0.19"/><circle cx="606" cy="43" r="1.1" fill-opacity="0.42"/><circle cx="1198" cy="295" r="1.3" fill-opacity="0.21"/><circle cx="245" cy="199" r="1.0" fill-opacity="0.15"/><circle cx="997" cy="10" r="0.9" fill-opacity="0.15"/><circle cx="15" cy="93" r="1.6" fill-opacity="0.22"/><circle cx="793" cy="36" r="1.6" fill-opacity="0.30"/><circle cx="1090" cy="201" r="1.6" fill-opacity="0.17"/><circle cx="679" cy="141" r="1.1" fill-opacity="0.32"/><circle cx="1056" cy="198" r="1.3" fill-opacity="0.17"/><circle cx="808" cy="205" r="1.3" fill-opacity="0.18"/><circle cx="695" cy="189" r="0.9" fill-opacity="0.18"/><circle cx="948" cy="260" r="0.9" fill-opacity="0.21"/><circle cx="403" cy="296" r="0.9" fill-opacity="0.37"/><circle cx="249" cy="34" r="0.9" fill-opacity="0.15"/><circle cx="113" cy="126" r="1.1" fill-opacity="0.39"/><circle cx="540" cy="253" r="0.9" fill-opacity="0.17"/><circle cx="804" cy="256" r="0.8" fill-opacity="0.17"/><circle cx="873" cy="292" r="1.0" fill-opacity="0.14"/><circle cx="647" cy="243" r="1.3" fill-opacity="0.45"/><circle cx="1066" cy="258" r="1.1" fill-opacity="0.14"/><circle cx="48" cy="178" r="1.3" fill-opacity="0.42"/><circle cx="616" cy="63" r="0.8" fill-opacity="0.17"/><circle cx="1075" cy="317" r="1.6" fill-opacity="0.13"/><circle cx="79" cy="305" r="1.1" fill-opacity="0.13"/><circle cx="124" cy="127" r="1.1" fill-opacity="0.28"/><circle cx="551" cy="193" r="0.8" fill-opacity="0.32"/><circle cx="52" cy="66" r="1.1" fill-opacity="0.26"/><circle cx="946" cy="131" r="0.9" fill-opacity="0.31"/><circle cx="121" cy="254" r="1.0" fill-opacity="0.41"/><circle cx="1026" cy="226" r="1.6" fill-opacity="0.43"/><circle cx="729" cy="64" r="1.3" fill-opacity="0.44"/><circle cx="1030" cy="85" r="0.8" fill-opacity="0.36"/><circle cx="996" cy="261" r="1.1" fill-opacity="0.15"/><circle cx="422" cy="174" r="1.0" fill-opacity="0.37"/><circle cx="979" cy="132" r="1.6" fill-opacity="0.16"/><circle cx="1021" cy="99" r="0.8" fill-opacity="0.10"/><circle cx="455" cy="205" r="1.3" fill-opacity="0.12"/><circle cx="349" cy="308" r="1.0" fill-opacity="0.22"/><circle cx="844" cy="184" r="1.3" fill-opacity="0.13"/><circle cx="659" cy="161" r="0.9" fill-opacity="0.35"/><circle cx="975" cy="314" r="0.8" fill-opacity="0.14"/><circle cx="138" cy="78" r="1.1" fill-opacity="0.24"/><circle cx="65" cy="65" r="1.1" fill-opacity="0.10"/><circle cx="331" cy="90" r="1.0" fill-opacity="0.29"/><circle cx="650" cy="310" r="1.3" fill-opacity="0.40"/><circle cx="128" cy="144" r="1.6" fill-opacity="0.13"/><circle cx="765" cy="244" r="0.8" fill-opacity="0.24"/><circle cx="1201" cy="125" r="0.9" fill-opacity="0.40"/><circle cx="694" cy="192" r="1.1" fill-opacity="0.43"/><circle cx="539" cy="170" r="1.3" fill-opacity="0.21"/><circle cx="679" cy="156" r="1.0" fill-opacity="0.30"/><circle cx="363" cy="230" r="1.0" fill-opacity="0.11"/><circle cx="989" cy="189" r="1.6" fill-opacity="0.15"/><circle cx="966" cy="127" r="1.0" fill-opacity="0.36"/><circle cx="64" cy="316" r="1.0" fill-opacity="0.13"/><circle cx="1159" cy="139" r="1.1" fill-opacity="0.19"/><circle cx="967" cy="17" r="0.8" fill-opacity="0.43"/><circle cx="925" cy="151" r="0.9" fill-opacity="0.31"/><circle cx="147" cy="201" r="1.1" fill-opacity="0.14"/><circle cx="1102" cy="116" r="0.9" fill-opacity="0.14"/><circle cx="567" cy="215" r="1.1" fill-opacity="0.31"/><circle cx="819" cy="219" r="1.0" fill-opacity="0.37"/><circle cx="679" cy="319" r="1.0" fill-opacity="0.36"/><circle cx="305" cy="39" r="1.0" fill-opacity="0.37"/><circle cx="800" cy="117" r="1.0" fill-opacity="0.31"/><circle cx="928" cy="225" r="0.9" fill-opacity="0.32"/><circle cx="964" cy="63" r="0.9" fill-opacity="0.28"/><circle cx="836" cy="65" r="1.6" fill-opacity="0.11"/><circle cx="78" cy="89" r="1.1" fill-opacity="0.11"/><circle cx="49" cy="74" r="1.0" fill-opacity="0.13"/><circle cx="111" cy="217" r="1.3" fill-opacity="0.18"/><circle cx="1256" cy="156" r="1.0" fill-opacity="0.17"/><circle cx="440" cy="239" r="0.8" fill-opacity="0.38"/><circle cx="573" cy="264" r="0.9" fill-opacity="0.26"/><circle cx="957" cy="127" r="0.9" fill-opacity="0.23"/><circle cx="837" cy="317" r="1.0" fill-opacity="0.20"/><circle cx="972" cy="265" r="0.9" fill-opacity="0.25"/><circle cx="473" cy="34" r="1.0" fill-opacity="0.13"/><circle cx="106" cy="182" r="1.1" fill-opacity="0.39"/><circle cx="593" cy="264" r="0.8" fill-opacity="0.13"/><circle cx="273" cy="213" r="0.8" fill-opacity="0.34"/><circle cx="633" cy="245" r="1.0" fill-opacity="0.20"/><circle cx="183" cy="116" r="1.6" fill-opacity="0.21"/><circle cx="1160" cy="105" r="1.1" fill-opacity="0.30"/><circle cx="1176" cy="301" r="1.0" fill-opacity="0.25"/><circle cx="1028" cy="100" r="1.0" fill-opacity="0.18"/><circle cx="1239" cy="234" r="1.3" fill-opacity="0.19"/><circle cx="463" cy="119" r="1.0" fill-opacity="0.34"/><circle cx="749" cy="255" r="1.6" fill-opacity="0.30"/><circle cx="1020" cy="174" r="1.3" fill-opacity="0.30"/><circle cx="226" cy="244" r="1.0" fill-opacity="0.38"/><circle cx="283" cy="21" r="0.9" fill-opacity="0.30"/><circle cx="1237" cy="209" r="1.1" fill-opacity="0.12"/><circle cx="700" cy="253" r="0.8" fill-opacity="0.22"/><circle cx="350" cy="36" r="1.0" fill-opacity="0.13"/><circle cx="812" cy="49" r="1.6" fill-opacity="0.39"/><circle cx="540" cy="229" r="1.1" fill-opacity="0.37"/><circle cx="668" cy="245" r="1.1" fill-opacity="0.22"/><circle cx="1033" cy="109" r="0.9" fill-opacity="0.27"/><circle cx="688" cy="232" r="1.6" fill-opacity="0.32"/><circle cx="59" cy="243" r="1.6" fill-opacity="0.22"/><circle cx="5" cy="123" r="0.8" fill-opacity="0.41"/><circle cx="1226" cy="206" r="1.3" fill-opacity="0.23"/><circle cx="13" cy="38" r="1.1" fill-opacity="0.42"/><circle cx="315" cy="54" r="1.6" fill-opacity="0.23"/><circle cx="215" cy="68" r="1.1" fill-opacity="0.29"/><circle cx="351" cy="284" r="1.1" fill-opacity="0.21"/><circle cx="147" cy="208" r="0.9" fill-opacity="0.42"/><circle cx="964" cy="8" r="1.1" fill-opacity="0.42"/><circle cx="47" cy="37" r="0.9" fill-opacity="0.23"/><circle cx="753" cy="193" r="1.1" fill-opacity="0.31"/><circle cx="287" cy="62" r="1.0" fill-opacity="0.24"/><circle cx="1166" cy="300" r="1.6" fill-opacity="0.29"/><circle cx="1046" cy="155" r="1.0" fill-opacity="0.27"/><circle cx="515" cy="306" r="1.6" fill-opacity="0.29"/><circle cx="1225" cy="156" r="0.9" fill-opacity="0.24"/><circle cx="278" cy="46" r="1.1" fill-opacity="0.44"/><circle cx="1017" cy="248" r="0.8" fill-opacity="0.33"/><circle cx="304" cy="6" r="1.1" fill-opacity="0.42"/><circle cx="576" cy="81" r="1.1" fill-opacity="0.31"/><circle cx="201" cy="53" r="1.0" fill-opacity="0.15"/><circle cx="1162" cy="260" r="0.9" fill-opacity="0.32"/><circle cx="1271" cy="87" r="1.3" fill-opacity="0.12"/><circle cx="732" cy="60" r="0.9" fill-opacity="0.39"/><circle cx="1083" cy="264" r="0.8" fill-opacity="0.22"/><circle cx="787" cy="170" r="1.1" fill-opacity="0.34"/><circle cx="106" cy="240" r="1.3" fill-opacity="0.40"/><circle cx="389" cy="253" r="1.1" fill-opacity="0.17"/><circle cx="873" cy="251" r="1.1" fill-opacity="0.17"/><circle cx="696" cy="170" r="0.9" fill-opacity="0.43"/><circle cx="1234" cy="103" r="1.1" fill-opacity="0.13"/><circle cx="391" cy="151" r="1.6" fill-opacity="0.12"/><circle cx="95" cy="48" r="1.6" fill-opacity="0.24"/><circle cx="591" cy="310" r="0.8" fill-opacity="0.33"/><circle cx="16" cy="123" r="1.6" fill-opacity="0.27"/><circle cx="376" cy="39" r="0.8" fill-opacity="0.40"/><circle cx="1081" cy="231" r="1.3" fill-opacity="0.15"/><circle cx="804" cy="300" r="1.6" fill-opacity="0.20"/><circle cx="432" cy="127" r="1.6" fill-opacity="0.13"/><circle cx="241" cy="122" r="0.8" fill-opacity="0.22"/><circle cx="1210" cy="181" r="1.6" fill-opacity="0.32"/><circle cx="572" cy="124" r="0.8" fill-opacity="0.15"/><circle cx="121" cy="218" r="1.6" fill-opacity="0.16"/><circle cx="247" cy="15" r="1.1" fill-opacity="0.31"/><circle cx="115" cy="75" r="0.9" fill-opacity="0.45"/><circle cx="555" cy="247" r="1.0" fill-opacity="0.42"/><circle cx="547" cy="165" r="1.6" fill-opacity="0.17"/><circle cx="189" cy="222" r="1.1" fill-opacity="0.22"/><circle cx="528" cy="8" r="1.1" fill-opacity="0.31"/><circle cx="407" cy="253" r="0.9" fill-opacity="0.33"/><circle cx="779" cy="9" r="1.0" fill-opacity="0.17"/><circle cx="393" cy="143" r="1.3" fill-opacity="0.23"/><circle cx="652" cy="253" r="0.8" fill-opacity="0.31"/><circle cx="203" cy="246" r="1.0" fill-opacity="0.29"/><circle cx="451" cy="162" r="0.9" fill-opacity="0.30"/><circle cx="254" cy="299" r="1.6" fill-opacity="0.35"/><circle cx="1198" cy="183" r="0.8" fill-opacity="0.32"/><circle cx="253" cy="29" r="0.9" fill-opacity="0.27"/><circle cx="534" cy="109" r="0.8" fill-opacity="0.43"/><circle cx="462" cy="150" r="0.8" fill-opacity="0.26"/><circle cx="934" cy="79" r="1.3" fill-opacity="0.29"/><circle cx="718" cy="181" r="1.0" fill-opacity="0.16"/><circle cx="955" cy="287" r="1.0" fill-opacity="0.31"/><circle cx="157" cy="264" r="1.0" fill-opacity="0.34"/><circle cx="465" cy="243" r="1.0" fill-opacity="0.39"/><circle cx="238" cy="177" r="0.8" fill-opacity="0.26"/><circle cx="516" cy="251" r="1.6" fill-opacity="0.15"/><circle cx="968" cy="272" r="1.1" fill-opacity="0.32"/><circle cx="820" cy="245" r="0.9" fill-opacity="0.17"/><circle cx="599" cy="48" r="1.1" fill-opacity="0.14"/><circle cx="519" cy="110" r="0.9" fill-opacity="0.19"/><circle cx="727" cy="108" r="1.6" fill-opacity="0.37"/><circle cx="924" cy="253" r="1.1" fill-opacity="0.44"/><circle cx="768" cy="152" r="1.1" fill-opacity="0.41"/><circle cx="1169" cy="182" r="1.1" fill-opacity="0.36"/><circle cx="622" cy="318" r="1.6" fill-opacity="0.24"/><circle cx="555" cy="182" r="1.3" fill-opacity="0.22"/><circle cx="666" cy="136" r="0.8" fill-opacity="0.21"/><circle cx="70" cy="233" r="1.1" fill-opacity="0.36"/><circle cx="765" cy="241" r="1.0" fill-opacity="0.41"/><circle cx="1123" cy="80" r="1.1" fill-opacity="0.18"/><circle cx="1118" cy="311" r="1.1" fill-opacity="0.34"/><circle cx="674" cy="79" r="1.0" fill-opacity="0.33"/><circle cx="1204" cy="282" r="1.6" fill-opacity="0.44"/><circle cx="852" cy="278" r="1.1" fill-opacity="0.30"/><circle cx="210" cy="209" r="1.1" fill-opacity="0.30"/><circle cx="1156" cy="34" r="0.9" fill-opacity="0.14"/><circle cx="688" cy="304" r="0.8" fill-opacity="0.20"/><circle cx="932" cy="11" r="0.9" fill-opacity="0.12"/><circle cx="1146" cy="261" r="1.1" fill-opacity="0.15"/><circle cx="886" cy="76" r="1.0" fill-opacity="0.11"/><circle cx="1150" cy="101" r="1.1" fill-opacity="0.15"/><circle cx="994" cy="249" r="0.9" fill-opacity="0.17"/><circle cx="1100" cy="223" r="0.8" fill-opacity="0.17"/><circle cx="1073" cy="115" r="1.1" fill-opacity="0.11"/><circle cx="813" cy="224" r="1.3" fill-opacity="0.17"/><circle cx="809" cy="64" r="0.8" fill-opacity="0.33"/><circle cx="392" cy="262" r="1.0" fill-opacity="0.40"/><circle cx="913" cy="46" r="1.6" fill-opacity="0.43"/><circle cx="997" cy="135" r="0.9" fill-opacity="0.18"/><circle cx="393" cy="228" r="0.9" fill-opacity="0.19"/><circle cx="922" cy="162" r="1.0" fill-opacity="0.38"/><circle cx="477" cy="213" r="0.8" fill-opacity="0.31"/><circle cx="293" cy="98" r="0.9" fill-opacity="0.33"/><circle cx="354" cy="206" r="0.8" fill-opacity="0.26"/><circle cx="98" cy="294" r="0.8" fill-opacity="0.29"/><circle cx="58" cy="193" r="1.0" fill-opacity="0.29"/><circle cx="542" cy="183" r="0.9" fill-opacity="0.20"/><circle cx="967" cy="81" r="1.0" fill-opacity="0.36"/><circle cx="37" cy="254" r="0.9" fill-opacity="0.45"/><circle cx="43" cy="149" r="1.3" fill-opacity="0.23"/><circle cx="1189" cy="161" r="0.9" fill-opacity="0.12"/><circle cx="994" cy="291" r="1.0" fill-opacity="0.33"/><circle cx="1002" cy="167" r="1.3" fill-opacity="0.39"/><circle cx="812" cy="315" r="1.6" fill-opacity="0.43"/><circle cx="223" cy="250" r="0.9" fill-opacity="0.14"/><circle cx="558" cy="215" r="1.3" fill-opacity="0.37"/><circle cx="1007" cy="254" r="0.9" fill-opacity="0.19"/><circle cx="697" cy="273" r="1.3" fill-opacity="0.27"/><circle cx="45" cy="192" r="1.6" fill-opacity="0.12"/><circle cx="574" cy="282" r="1.0" fill-opacity="0.15"/><circle cx="23" cy="160" r="1.1" fill-opacity="0.28"/><circle cx="926" cy="275" r="0.8" fill-opacity="0.13"/><circle cx="1161" cy="183" r="1.3" fill-opacity="0.30"/><circle cx="924" cy="201" r="0.8" fill-opacity="0.21"/><circle cx="54" cy="103" r="1.3" fill-opacity="0.36"/><circle cx="999" cy="246" r="1.1" fill-opacity="0.13"/><circle cx="1050" cy="57" r="1.0" fill-opacity="0.19"/><circle cx="636" cy="212" r="1.3" fill-opacity="0.38"/><circle cx="78" cy="133" r="1.0" fill-opacity="0.34"/><circle cx="901" cy="306" r="0.9" fill-opacity="0.27"/><circle cx="974" cy="316" r="0.9" fill-opacity="0.36"/><circle cx="668" cy="315" r="0.8" fill-opacity="0.18"/><circle cx="1139" cy="48" r="1.1" fill-opacity="0.29"/><circle cx="604" cy="300" r="0.8" fill-opacity="0.34"/><circle cx="918" cy="312" r="1.3" fill-opacity="0.18"/><circle cx="324" cy="178" r="0.9" fill-opacity="0.25"/><circle cx="110" cy="75" r="1.0" fill-opacity="0.22"/><circle cx="1256" cy="197" r="0.8" fill-opacity="0.16"/><circle cx="749" cy="318" r="1.6" fill-opacity="0.22"/><circle cx="889" cy="277" r="1.3" fill-opacity="0.42"/><circle cx="227" cy="276" r="0.9" fill-opacity="0.23"/><circle cx="1000" cy="71" r="1.0" fill-opacity="0.19"/><circle cx="1015" cy="258" r="1.1" fill-opacity="0.17"/><circle cx="275" cy="151" r="1.0" fill-opacity="0.27"/><circle cx="627" cy="202" r="0.9" fill-opacity="0.40"/><circle cx="262" cy="124" r="0.8" fill-opacity="0.12"/><circle cx="354" cy="304" r="1.3" fill-opacity="0.11"/><circle cx="233" cy="86" r="1.1" fill-opacity="0.30"/><circle cx="831" cy="72" r="0.8" fill-opacity="0.23"/><circle cx="197" cy="300" r="1.0" fill-opacity="0.15"/><circle cx="308" cy="269" r="0.8" fill-opacity="0.11"/><circle cx="412" cy="125" r="0.8" fill-opacity="0.40"/><circle cx="488" cy="84" r="1.3" fill-opacity="0.33"/><circle cx="387" cy="196" r="1.1" fill-opacity="0.11"/><circle cx="193" cy="192" r="0.8" fill-opacity="0.17"/><circle cx="526" cy="155" r="1.6" fill-opacity="0.15"/><circle cx="904" cy="86" r="1.6" fill-opacity="0.26"/><circle cx="483" cy="282" r="1.0" fill-opacity="0.29"/><circle cx="575" cy="46" r="1.3" fill-opacity="0.40"/><circle cx="289" cy="96" r="1.0" fill-opacity="0.31"/><circle cx="180" cy="272" r="1.6" fill-opacity="0.32"/><circle cx="724" cy="259" r="1.6" fill-opacity="0.20"/><circle cx="858" cy="294" r="0.9" fill-opacity="0.30"/><circle cx="452" cy="42" r="1.0" fill-opacity="0.18"/><circle cx="810" cy="31" r="1.1" fill-opacity="0.14"/><circle cx="631" cy="158" r="1.0" fill-opacity="0.20"/><circle cx="900" cy="73" r="1.1" fill-opacity="0.17"/><circle cx="983" cy="114" r="1.6" fill-opacity="0.18"/><circle cx="119" cy="111" r="1.1" fill-opacity="0.38"/><circle cx="612" cy="84" r="1.3" fill-opacity="0.21"/><circle cx="1171" cy="289" r="0.8" fill-opacity="0.23"/><circle cx="81" cy="131" r="0.8" fill-opacity="0.23"/><circle cx="1084" cy="98" r="1.6" fill-opacity="0.21"/><circle cx="324" cy="10" r="1.0" fill-opacity="0.21"/><circle cx="478" cy="97" r="1.6" fill-opacity="0.41"/><circle cx="822" cy="125" r="1.0" fill-opacity="0.43"/><circle cx="464" cy="186" r="0.9" fill-opacity="0.37"/><circle cx="803" cy="200" r="1.1" fill-opacity="0.31"/><circle cx="81" cy="25" r="1.1" fill-opacity="0.41"/></g>
</svg>
</div>
<div id="card"></div>
<svg id="ov" width="1280" height="727" viewBox="0 0 1280 727">
<path d="M508.69 334.01A168.6 168.6 0 0 1 635 274.91L635 250L679.9 309.5L635 370.2L635 343.12A100.4 100.4 0 0 0 566.72 371.7L548.2 329.13ZM667.62 277.72A168.6 168.6 0 0 1 781.95 357.56L803.53 345.1L774.45 413.74L699.43 405.2L722.88 391.66A100.4 100.4 0 0 0 663.99 346.82L691.6 309.5ZM795.83 387.22A168.6 168.6 0 0 1 783.85 526.15L805.43 538.6L731.45 547.74L701.33 478.5L724.78 492.05A100.4 100.4 0 0 0 734.17 418.62L780.3 423.87ZM765.11 552.99A168.6 168.6 0 0 1 638.8 612.09L638.8 637L593.9 577.5L638.8 516.8L638.8 543.88A100.4 100.4 0 0 0 707.08 515.3L725.6 557.87ZM606.18 609.28A168.6 168.6 0 0 1 491.85 529.44L470.27 541.9L499.35 473.26L574.37 481.8L550.92 495.34A100.4 100.4 0 0 0 609.81 540.18L582.2 577.5ZM477.97 499.78A168.6 168.6 0 0 1 489.95 360.85L468.37 348.4L542.35 339.26L572.47 408.5L549.02 394.95A100.4 100.4 0 0 0 539.63 468.38L493.5 463.13Z" fill="#0028a9"/>
<line x1="514" y1="298.7" x2="396.7" y2="298.7" stroke="#8c8c8c" stroke-width="1.3" stroke-dasharray="4 3.03"/>
<circle cx="396.7" cy="298.7" r="3.9" fill="#8a8a8a"/>
<line x1="456.1" y1="445.9" x2="396.5" y2="445.9" stroke="#8c8c8c" stroke-width="1.8" stroke-dasharray="4 3.03"/>
<circle cx="396.5" cy="445.9" r="3.9" fill="#8a8a8a"/>
<line x1="514.1" y1="590.7" x2="400.9" y2="590.7" stroke="#8c8c8c" stroke-width="1.3" stroke-dasharray="4 3.03"/>
<circle cx="400.9" cy="590.7" r="3.9" fill="#8a8a8a"/>
<line x1="752.9" y1="298.7" x2="870.6" y2="298.7" stroke="#8c8c8c" stroke-width="1.3" stroke-dasharray="4 3.03"/>
<circle cx="870.6" cy="298.7" r="3.9" fill="#8a8a8a"/>
<line x1="804.1" y1="440.5" x2="865.3" y2="440.5" stroke="#8c8c8c" stroke-width="1.3" stroke-dasharray="4 3.03"/>
<circle cx="865.3" cy="440.5" r="3.9" fill="#8a8a8a"/>
<line x1="752.9" y1="588.35" x2="870.6" y2="588.35" stroke="#8c8c8c" stroke-width="1.3" stroke-dasharray="4 3.03"/>
<circle cx="870.6" cy="588.35" r="3.9" fill="#8a8a8a"/>
<text x="379.24" y="125.61" font-size="42.7" font-weight="700" fill="#ffffff">六大创新解决方案直击痛点</text>
<text x="1125.51" y="64.45" font-size="26.7" font-weight="700" fill="#ffffff">宁德时代</text>
<g transform="translate(1012 40) scale(0.08749)" fill="#fff" aria-label="CATL"><path fill-rule="evenodd" d="M350 80L190 80Q75 80 75 190Q75 300 190 300L368 300L380 272L222 272Q160 272 160 190Q160 107 222 107L345 107ZM462 80L560 80L640 300L545 300L521 232L410 232L372 300L335 300ZM425 207L511 207L478 122ZM625 80H905V108H815V300H715V108H625ZM925 80H1040V272H1200V300H925Z"/></g>
<text x="316" y="269.6" font-size="40" font-weight="700" fill="#a9b5cb">01</text>
<text x="894" y="269.6" font-size="40" font-weight="700" fill="#a9b5cb">02</text>
<text x="894" y="412.6" font-size="40" font-weight="700" fill="#a9b5cb">03</text>
<text x="894" y="558.6" font-size="40" font-weight="700" fill="#a9b5cb">04</text>
<text x="316" y="558.6" font-size="40" font-weight="700" fill="#a9b5cb">05</text>
<text x="316" y="417.6" font-size="40" font-weight="700" fill="#a9b5cb">06</text>
<text x="261.3" y="304.61" font-size="18.67" fill="#0b1f5c">高镍<tspan font-size="17.18" font-weight="700" dy="-2.8">+</tspan><tspan dy="2.8">硅负极</tspan></text>
<text x="290.18" y="326.37" font-size="18.67" fill="#0aa0fb">高压无钴</text>
<text x="271.94" y="349.67" font-size="18.67" fill="#0aa0fb">无金属体系</text>
<g transform="translate(326.84 370.08)" fill="#0aa0fb" aria-label="CTC" stroke="#0aa0fb" stroke-width="0.3" stroke-linejoin="round">
<text x="0" y="0" font-size="18.67" xml:space="preserve">CTC</text>
</g>
<g transform="translate(284.2 370.32)" fill="#0b1f5c" aria-label="CTP/" stroke="#0b1f5c" stroke-width="0.3" stroke-linejoin="round">
<text x="0" y="0" font-size="18.67" xml:space="preserve">CTP/</text>
</g>
<text x="251.5" y="450.27" font-size="18.67" fill="#0b1f5c">高安全电解液</text>
<text x="233.34" y="472.36" font-size="18.67" fill="#0b1f5c">热扩散隔离(NP)</text>
<text x="283.07" y="597.11" font-size="18.67" fill="#0aa0fb">无贵金属</text>
<text x="283.37" y="618.75" font-size="18.67" fill="#0b1f5c">梯次利用</text>
<text x="895.88" y="308.7" font-size="21.33" fill="#0b1f5c">15分钟Turbo Charge</text>
<text x="895.8" y="334.3" font-size="21.33" fill="#0aa0fb">9分钟Turbo Charge</text>
<text x="897.03" y="453.46" font-size="21.33" fill="#0b1f5c">超低温电芯、变频自加热</text>
<text x="893.43" y="598.23" font-size="21.33" fill="#0b1f5c">200万公里/16年</text>
<text x="586.76" y="322.99" font-size="21.33" font-weight="700" fill="#ffffff">里程</text>
<text x="715.91" y="359.95" font-size="21.33" font-weight="700" fill="#ffffff">充电</text>
<text x="746.75" y="489.06" font-size="21.33" font-weight="700" fill="#ffffff">低温</text>
<text x="648.33" y="580.58" font-size="21.33" font-weight="700" fill="#ffffff">保值</text>
<text x="524.6" y="542.87" font-size="21.33" font-weight="700" fill="#ffffff">成本</text>
<text x="487.86" y="419.08" font-size="21.33" font-weight="700" fill="#ffffff">安全</text>
<text x="582.22" y="455.3" font-size="26.67" font-weight="700" fill="#0129aa">创新技术</text>
<circle cx="911.6" cy="699.3" r="5.4" fill="#0a1a5c"/>
<text x="934.16" y="703.83" font-size="16" fill="#0b1f5c">量产技术</text>
<circle cx="1050.6" cy="699.6" r="5.4" fill="#0da2ff"/>
<text x="1066.71" y="703.85" font-size="16" fill="#0aa0fb">在研技术</text>
</svg>
<div class="sr">
<h1>六大创新解决方案直击痛点</h1>
<p>CATL 宁德时代</p>
<p>创新技术：里程、充电、低温、保值、成本、安全</p>
<ol>
<li>01 高镍+硅负极 / 高压无钴 / 无金属体系 / CTP/CTC</li>
<li>02 15分钟Turbo Charge / 9分钟Turbo Charge</li>
<li>03 超低温电芯、变频自加热</li>
<li>04 200万公里/16年</li>
<li>05 无贵金属 / 梯次利用</li>
<li>06 高安全电解液 / 热扩散隔离(NP)</li>
</ol>
<p>量产技术　在研技术</p>
</div>
</body>
</html>
